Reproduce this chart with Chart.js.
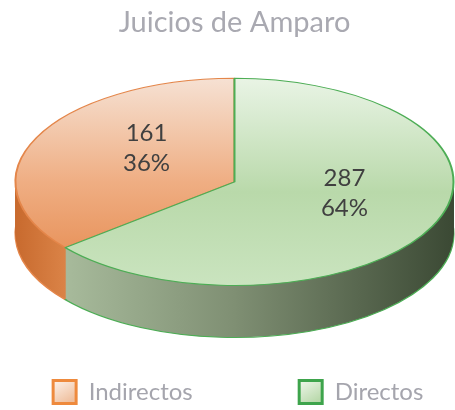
<!DOCTYPE html>
<html lang="es">
<head>
    <meta charset="UTF-8">
    <title>Juicios de Amparo</title>
    <script src="https://cdn.jsdelivr.net/npm/chart.js"></script>
    <style>
        body { margin: 0; background: #fff; }
        #wrap { width: 455px; height: 410px; }
    </style>
</head>
<body>
    <div id="wrap"><canvas id="pieChart"></canvas></div>
    <script>
        // data
        const categories = ['Indirectos', 'Directos'];
        const values = [161, 287];
        const total = values.reduce((a, b) => a + b, 0);

        // look of the fake 3d pie
        const TILT = 0.473;       // vertical squash of the disc
        const DEPTH = 52;         // thickness of the side wall, px
        const RADIUS = 219;
        const LABEL_LIFT = 11;
        const LABEL_SHIFT = 11;
        const LEGEND_GAP = 105;
        const topStops = [
            [[0, '#f6e1d3'], [0.5, '#efae83'], [1, '#e5874a']],
            [[0, '#e9f4e5'], [0.55, '#b9d9aa'], [1, '#cae4bf']]
        ];
        const sideStops = [
            [[0, '#c86a2e'], [0.15, '#e08b4f'], [1, '#e08b4f']],
            [[0, '#b3c7a7'], [0.5, '#7f8f73'], [1, '#3b4934']]
        ];
        const edgeColors = ['#e4864a', '#4dad55'];
        const legendStops = [
            [[0, '#fdf3ec'], [1, '#efbf9d']],
            [[0, '#f0f7ec'], [1, '#b9d9ab']]
        ];
        const legendEdge = ['#ee8a3d', '#3ea44c'];

        function gradient(ctx, x0, y0, x1, y1, stops) {
            const g = ctx.createLinearGradient(x0, y0, x1, y1);
            stops.forEach(s => g.addColorStop(s[0], s[1]));
            return g;
        }

        function drawArc(ctx, arc, opts) {
            const saved = arc.options;
            arc.options = Object.assign({}, saved, opts);
            arc.draw(ctx);
            arc.options = saved;
        }

        const pie3d = {
            id: 'pie3d',
            beforeDatasetsDraw(chart) {
                const ctx = chart.ctx;
                const arcs = chart.getDatasetMeta(0).data;
                const cx = arcs[0].x, cy = arcs[0].y, r = arcs[0].outerRadius;
                const flatten = (dy) => {
                    ctx.translate(0, dy);
                    ctx.translate(cx, cy);
                    ctx.scale(1, TILT);
                    ctx.translate(-cx, -cy);
                };

                // side wall: stack of shifted copies
                const sideGrads = sideStops.map(s => gradient(ctx, cx - r, 0, cx + r, 0, s));
                for (let d = DEPTH; d >= 1; d--) {
                    ctx.save();
                    flatten(d);
                    arcs.forEach((arc, i) => drawArc(ctx, arc, {
                        backgroundColor: sideGrads[i],
                        borderColor: edgeColors[i],
                        borderWidth: d === DEPTH ? 2 : 0
                    }));
                    ctx.restore();
                }

                // top face
                ctx.save();
                flatten(0);
                arcs.forEach((arc, i) => drawArc(ctx, arc, {
                    backgroundColor: gradient(ctx, 0, cy - r, 0, cy + r, topStops[i]),
                    borderColor: edgeColors[i],
                    borderWidth: 2
                }));
                ctx.restore();
                return false;
            },
            afterDraw(chart) {
                const ctx = chart.ctx;
                const arcs = chart.getDatasetMeta(0).data;
                const cx = arcs[0].x, cy = arcs[0].y;
                ctx.save();

                // value labels
                ctx.font = '24px Lato';
                ctx.fillStyle = '#404040';
                ctx.textAlign = 'center';
                ctx.textBaseline = 'middle';
                arcs.forEach((arc, i) => {
                    const p = arc.tooltipPosition();
                    const y = cy + (p.y - cy) * TILT - LABEL_LIFT;
                    const pct = Math.round(values[i] / total * 100) + '%';
                    ctx.fillText(String(values[i]), p.x + LABEL_SHIFT, y - 15);
                    ctx.fillText(pct, p.x + LABEL_SHIFT, y + 15);
                });

                // legend, drawn by hand so the wide gap fits on one row
                const box = 23, textGap = 11;
                const widths = categories.map(t => box + 3 + textGap + ctx.measureText(t).width);
                const full = widths.reduce((a, b) => a + b, 0) + LEGEND_GAP * (categories.length - 1);
                let x = cx + 3 - full / 2;
                const ly = chart.height - 18;
                ctx.textAlign = 'left';
                categories.forEach((t, i) => {
                    const bx = x + 1.5, by = ly - box / 2;
                    ctx.fillStyle = gradient(ctx, bx, by, bx + box * 0.6, by + box, legendStops[i]);
                    ctx.fillRect(bx, by, box, box);
                    ctx.lineWidth = 3;
                    ctx.strokeStyle = legendEdge[i];
                    ctx.strokeRect(bx, by, box, box);
                    ctx.fillStyle = '#a5a5ad';
                    ctx.fillText(t, x + box + 3 + textGap, ly);
                    x += widths[i] + LEGEND_GAP;
                });
                ctx.restore();
            }
        };

        const ctx = document.getElementById('pieChart').getContext('2d');
        const chart = new Chart(ctx, {
            type: 'pie',
            data: {
                labels: categories,
                datasets: [{
                    data: values,
                    backgroundColor: edgeColors,
                    borderColor: edgeColors,
                    borderWidth: 2,
                    radius: RADIUS,
                    rotation: -values[0] / total * 360
                }]
            },
            options: {
                responsive: true,
                maintainAspectRatio: false,
                animation: false,
                layout: { padding: { left: 14, top: 0, bottom: 96 } },
                plugins: {
                    title: {
                        display: true,
                        text: 'Juicios de Amparo',
                        color: '#a9a9b1',
                        font: { family: 'Lato', size: 29, weight: 'normal' },
                        padding: { top: 5, bottom: 10 }
                    },
                    legend: { display: false },
                    tooltip: { enabled: false }
                }
            },
            plugins: [pie3d]
        });
    </script>
</body>
</html>
